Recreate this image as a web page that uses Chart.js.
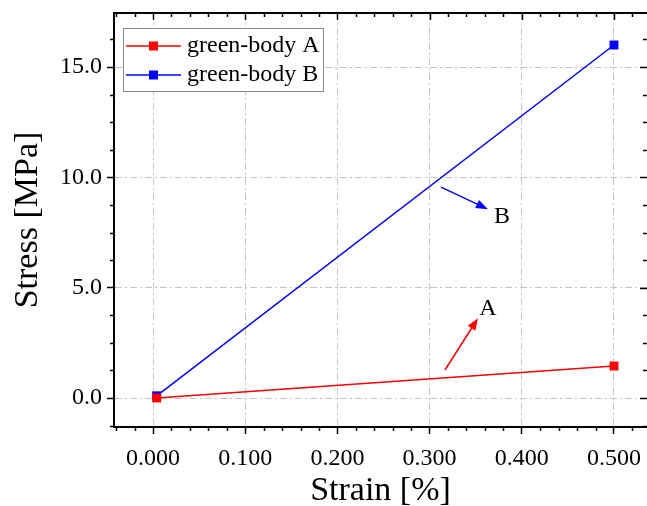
<!DOCTYPE html>
<html>
<head>
<meta charset="utf-8">
<script src="https://cdn.jsdelivr.net/npm/chart.js"></script>
<style>
    html, body { margin: 0; padding: 0; background: #fff; }
    canvas { display: block; }
</style>
</head>
<body>
<canvas id="chart" width="647" height="506"></canvas>
<script>
// values
const strain = [0.004, 0.5]
const stressA = [0, 1.45]
const stressB = [0.1, 16.0]
const seriesNames = ['green-body A', 'green-body B']

const xTicks = [0, 0.1, 0.2, 0.3, 0.4, 0.5]
const yTicks = [0, 5, 10, 15]

// arrow annotations: [x0, y0, x1, y1] in data units, label position [x, y]
const arrowA = [0.3167, 1.27, 0.3525, 3.62]
const arrowB = [0.3124, 9.56, 0.3633, 8.56]
const labelA = [0.3633, 4.03]
const labelB = [0.3785, 8.2]

const RED = '#ff0000'
const BLUE = '#0000ff'
const SERIF = "'Liberation Serif', 'Times New Roman', serif"

Chart.defaults.font.family = SERIF
Chart.defaults.color = '#000'


function line(ctx, x0, y0, x1, y1) {
    ctx.beginPath()
    ctx.moveTo(x0, y0)
    ctx.lineTo(x1, y1)
    ctx.stroke()
}

function arrow(ctx, x0, y0, x1, y1, color) {
    const ang = Math.atan2(y1 - y0, x1 - x0)
    const len = 12, half = 4.5
    ctx.strokeStyle = color
    ctx.fillStyle = color
    ctx.lineWidth = 1.5
    line(ctx, x0, y0, x1 - Math.cos(ang) * len * 0.8, y1 - Math.sin(ang) * len * 0.8)
    ctx.beginPath()
    ctx.moveTo(x1, y1)
    ctx.lineTo(x1 - Math.cos(ang) * len - Math.sin(ang) * half, y1 - Math.sin(ang) * len + Math.cos(ang) * half)
    ctx.lineTo(x1 - Math.cos(ang) * len + Math.sin(ang) * half, y1 - Math.sin(ang) * len - Math.cos(ang) * half)
    ctx.closePath()
    ctx.fill()
}


/**
 * top border, minor ticks and mirrored ticks on top / right
 */
const framePlugin = {
    id: 'frame',
    afterDraw(chart) {
        const {ctx, chartArea: a} = chart
        const x = chart.scales.x
        const y = chart.scales.y
        ctx.save()
        ctx.strokeStyle = '#000'
        ctx.lineWidth = 2
        line(ctx, a.left - 1, a.top, a.right, a.top)

        ctx.lineWidth = 1.5
        for (let v = -0.04; v <= x.max; v += 0.02) {
            const px = Math.round(x.getPixelForValue(v)) + 0.5
            const major = xTicks.some(t => Math.abs(t - v) < 1e-6)
            const len = major ? 7 : 4
            if (!major) line(ctx, px, a.bottom, px, a.bottom + len)
            line(ctx, px, a.top, px, a.top + len)
        }
        for (let v = -1.25; v <= y.max; v += 1.25) {
            const py = Math.round(y.getPixelForValue(v)) + 0.5
            const major = yTicks.some(t => Math.abs(t - v) < 1e-6)
            const len = major ? 7 : 4
            if (!major) line(ctx, a.left - len, py, a.left, py)
            line(ctx, a.right - len, py, a.right, py)
        }
        ctx.restore()
    }
}


const annotationPlugin = {
    id: 'notes',
    afterDatasetsDraw(chart) {
        const {ctx} = chart
        const x = chart.scales.x
        const y = chart.scales.y
        ctx.save()
        arrow(ctx, x.getPixelForValue(arrowB[0]), y.getPixelForValue(arrowB[1]),
            x.getPixelForValue(arrowB[2]), y.getPixelForValue(arrowB[3]), BLUE)
        arrow(ctx, x.getPixelForValue(arrowA[0]), y.getPixelForValue(arrowA[1]),
            x.getPixelForValue(arrowA[2]), y.getPixelForValue(arrowA[3]), RED)

        ctx.fillStyle = '#000'
        ctx.font = '24px ' + SERIF
        ctx.textAlign = 'center'
        ctx.textBaseline = 'middle'
        ctx.fillText('B', x.getPixelForValue(labelB[0]), y.getPixelForValue(labelB[1]))
        ctx.fillText('A', x.getPixelForValue(labelA[0]), y.getPixelForValue(labelA[1]))
        ctx.restore()
    }
}


const legendPlugin = {
    id: 'boxLegend',
    afterDraw(chart) {
        const {ctx, chartArea: a} = chart
        const left = a.left + 9, top = a.top + 15
        ctx.save()
        ctx.fillStyle = '#fff'
        ctx.fillRect(left, top, 200, 63)
        ctx.strokeStyle = '#8c8c8c'
        ctx.lineWidth = 1
        ctx.strokeRect(left + 0.5, top + 0.5, 200, 63)

        chart.data.datasets.forEach((ds, i) => {
            const rowY = top + 18 + i * 29
            ctx.strokeStyle = ds.borderColor
            ctx.fillStyle = ds.borderColor
            ctx.lineWidth = 1.5
            line(ctx, left + 3, rowY, left + 58, rowY)
            ctx.fillRect(left + 26, rowY - 4.5, 9, 9)
            ctx.fillStyle = '#000'
            ctx.font = '24px ' + SERIF
            ctx.textAlign = 'left'
            ctx.textBaseline = 'middle'
            ctx.fillText(ds.label, left + 64, rowY)
        })
        ctx.restore()
    }
}


function makeDataset(label, values, color) {
    return {
        label: label,
        data: strain.map((s, i) => ({x: s, y: values[i]})),
        borderColor: color,
        backgroundColor: color,
        borderWidth: 1.5,
        tension: 0,
        pointStyle: 'rect',
        pointRadius: 6.3,
        pointBorderWidth: 0,
        pointBackgroundColor: color,
    }
}

const gridOpts = {
    color: '#c4c4c4',
    lineWidth: 1,
    tickColor: '#000',
    tickWidth: 1.5,
    tickLength: 7,
    tickBorderDash: [],
}


const chart = new Chart(document.getElementById('chart'), {
    type: 'line',
    data: {
        datasets: [
            makeDataset(seriesNames[0], stressA, RED),
            makeDataset(seriesNames[1], stressB, BLUE),
        ]
    },
    plugins: [annotationPlugin, framePlugin, legendPlugin],
    options: {
        responsive: false,
        animation: false,
        devicePixelRatio: 1,
        // autoPadding would keep room for the point squares on the right
        layout: {autoPadding: false, padding: {top: 13, right: 0, bottom: 0, left: 0}},
        plugins: {
            legend: {display: false},
            tooltip: {enabled: false},
        },
        scales: {
            x: {
                type: 'linear',
                min: -0.0423,
                max: 0.5358,
                afterBuildTicks: scale => { scale.ticks = xTicks.map(v => ({value: v})) },
                afterFit: scale => {
                    scale.height = 79
                    scale.paddingLeft = 0
                    scale.paddingRight = 0
                },
                ticks: {
                    callback: v => v.toFixed(3),
                    font: {family: SERIF, size: 24},
                    padding: 10,
                    maxRotation: 0,
                    autoSkip: false,
                },
                grid: gridOpts,
                border: {color: '#000', width: 2, dash: [7, 3, 2, 3]},
                title: {
                    display: true,
                    text: 'Strain [%]',
                    font: {family: SERIF, size: 34, lineHeight: 0.9},
                    padding: {top: 0, bottom: 0},
                },
            },
            y: {
                type: 'linear',
                min: -1.314,
                max: 17.45,
                afterBuildTicks: scale => { scale.ticks = yTicks.map(v => ({value: v})) },
                afterFit: scale => {
                    scale.width = 114
                    scale.paddingTop = 0
                    scale.paddingBottom = 0
                },
                ticks: {
                    callback: v => v.toFixed(1),
                    font: {family: SERIF, size: 24},
                    padding: 5,
                },
                grid: gridOpts,
                border: {color: '#000', width: 2, dash: [7, 3, 2, 3]},
                title: {
                    display: true,
                    text: 'Stress [MPa]',
                    font: {family: SERIF, size: 34, lineHeight: 1.2},
                    padding: {top: 8, bottom: 0},
                },
            },
        },
    },
})
</script>
</body>
</html>
